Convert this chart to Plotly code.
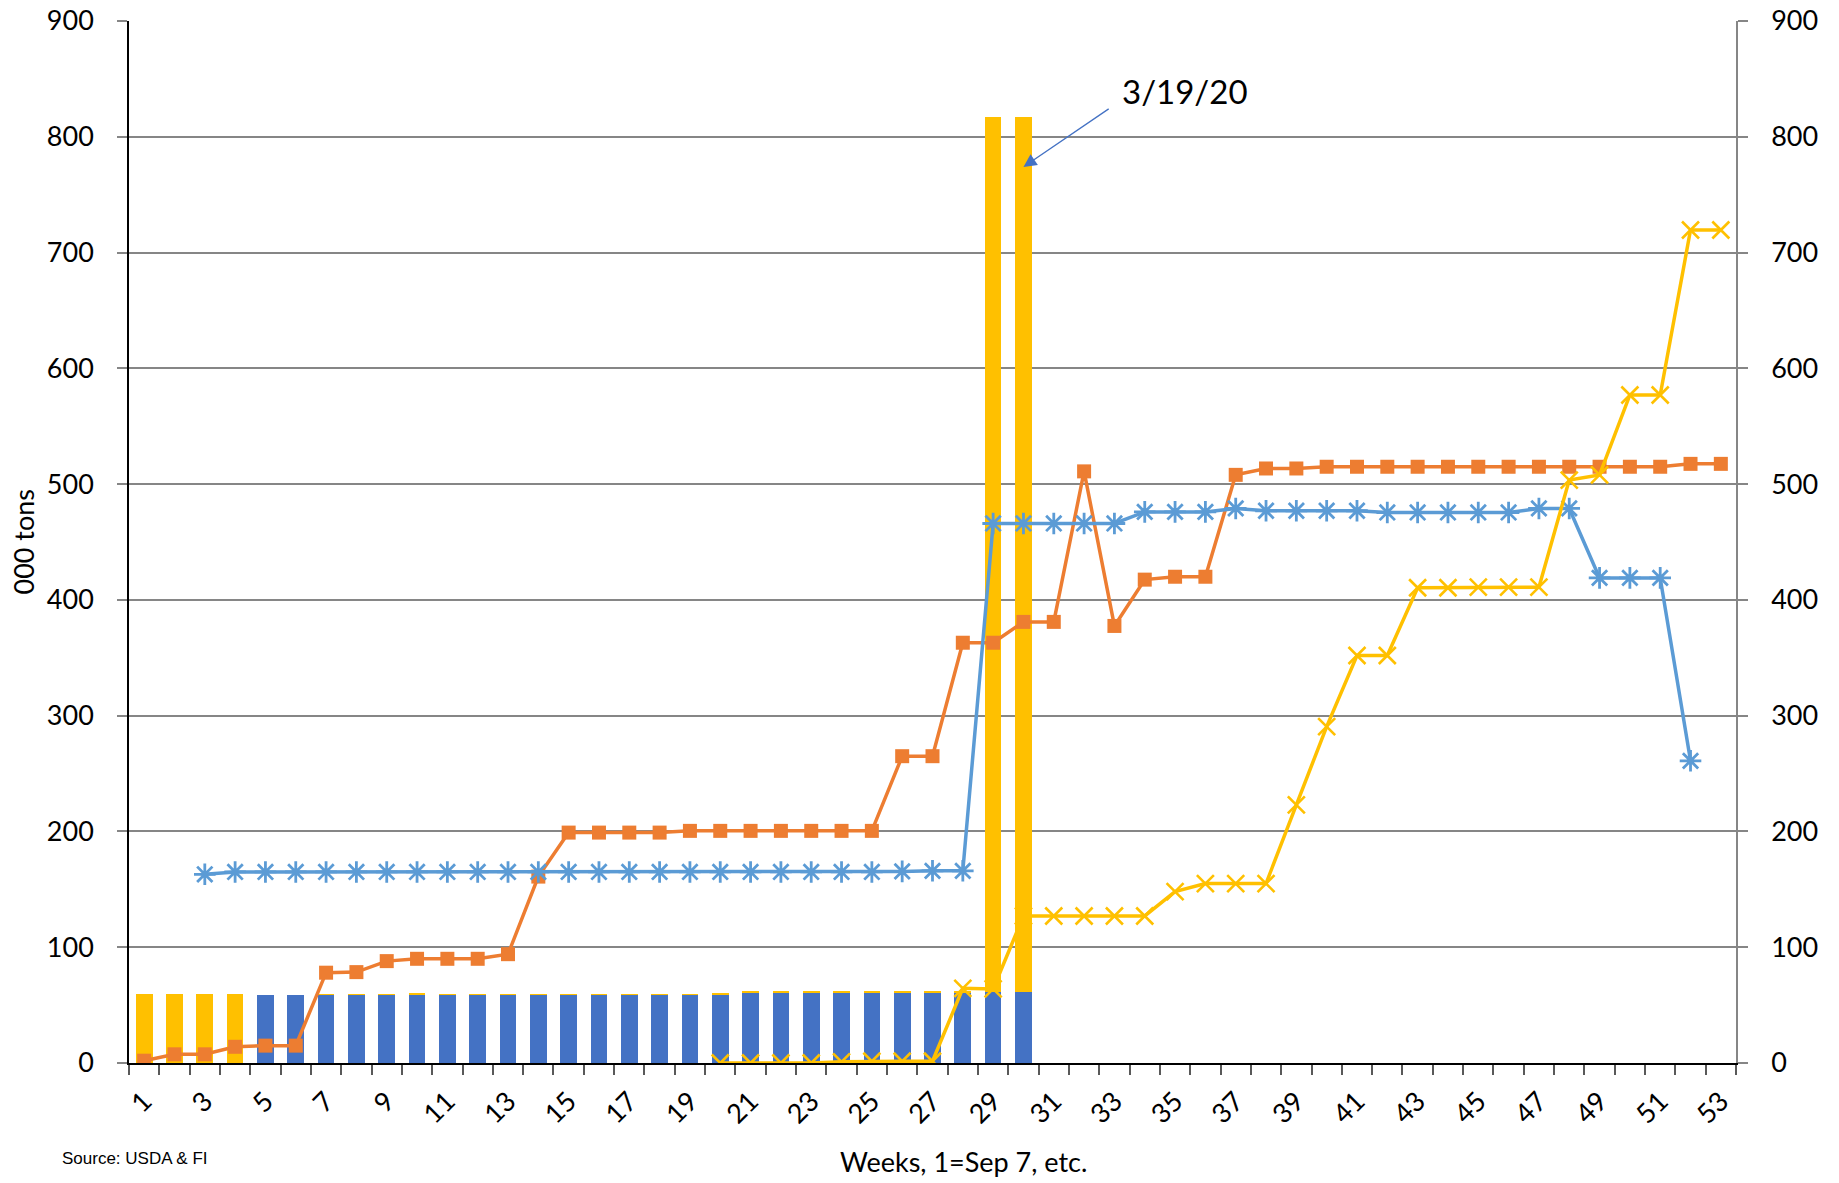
import plotly.graph_objects as go

weeks = list(range(1, 54))
odd_weeks = list(range(1, 54, 2))

# Stacked bars (000 tons)
bar_blue = [0, 0, 0, 0, 58.5, 58.5, 59, 59, 59, 59, 59, 59, 59, 59, 59, 59, 59, 59, 59, 59.5,
            61, 61, 61, 61, 61, 61, 61, 61, 61, 61] + [None] * 23
bar_yellow = [60, 60, 60, 60, 0, 0, 0.6, 0.6, 0.6, 1.5, 0.6, 0.6, 0.6, 0.6, 0.6, 0.6, 0.6, 0.6, 0.6, 0.6,
              0.6, 0.6, 0.6, 0.6, 0.6, 0.6, 0.6, 0.6, 756, 756] + [None] * 23

# Lines (000 tons)
line_orange = [2, 7.5, 7.5, 14, 15, 15, 78, 78.5, 88, 90, 90, 90, 94, 161, 199, 199, 199, 199, 200.5, 200.5,
               200.5, 200.5, 200.5, 200.5, 200.5, 265, 265, 363, 363, 381, 381, 511, 377.5, 417.5, 420, 420,
               508, 513.5, 513.5, 515, 515, 515, 515, 515, 515, 515, 515, 515, 515, 515, 515, 517.5, 517.5]
line_blue = [None, None, 163, 165, 165, 165, 165, 165, 165, 165, 165, 165, 165, 165, 165, 165, 165, 165, 165, 165,
             165, 165, 165, 165, 165, 165.5, 166, 166, 466, 466, 466, 466, 466, 476, 476, 476, 479, 477, 477, 477,
             477, 475.5, 475.5, 475.5, 475.5, 475.5, 479, 479, 419, 419, 419, 261, None]
line_yellow = [None] * 19 + [0, 0, 0, 0, 1, 1.5, 1.5, 1.5, 64.5, 64, 127, 127, 127, 127, 127, 148, 155, 155, 155,
                             223, 290.5, 352, 352, 410.5, 410.5, 411, 411, 411, 503.5, 508, 577, 577, 719.5, 719.5]

y_ticks = list(range(0, 901, 100))

BLUE_BAR = "#4472C4"
YELLOW = "#FFC000"
ORANGE = "#ED7D31"
LBLUE = "#5B9BD5"
GRID = "#868686"
FONT = "Lato"

fig = go.Figure()
fig.add_trace(go.Bar(x=weeks, y=bar_blue, marker=dict(color=BLUE_BAR, line=dict(width=0)), showlegend=False))
fig.add_trace(go.Bar(x=weeks, y=bar_yellow, marker=dict(color=YELLOW, line=dict(width=0)), showlegend=False))

fig.add_trace(go.Scatter(x=weeks, y=line_orange, yaxis="y2", mode="lines+markers",
                         line=dict(color=ORANGE, width=3.5),
                         marker=dict(symbol="square", size=14, color=ORANGE), showlegend=False))
fig.add_trace(go.Scatter(x=weeks, y=line_blue, yaxis="y2", mode="lines+markers",
                         line=dict(color=LBLUE, width=3.5),
                         marker=dict(symbol="asterisk-open", size=18, color=LBLUE,
                                     line=dict(color=LBLUE, width=2.8)), showlegend=False))
fig.add_trace(go.Scatter(x=weeks, y=line_yellow, yaxis="y2", mode="lines+markers",
                         line=dict(color=YELLOW, width=3.5),
                         marker=dict(symbol="x-thin-open", size=17, color=YELLOW,
                                     line=dict(color=YELLOW, width=2.6)), showlegend=False))

# target plot area in page pixels
L, R, T, B = 129.3, 1736, 21, 1063.3
W, H = 1839, 1183

fig.update_layout(
    width=W, height=H,
    margin=dict(l=L, r=W - R, t=T, b=H - B, pad=0, autoexpand=False),
    paper_bgcolor="white", plot_bgcolor="white",
    barmode="stack", bargap=0.45,
    font=dict(family=FONT, size=26, color="#000000"),
    xaxis=dict(range=[0.5, 53.5], tickmode="array", tickvals=odd_weeks,
               ticktext=[str(w) for w in odd_weeks], tickangle=-45, ticks="",
               showline=True, linecolor="#000000", linewidth=1.5, showgrid=False, zeroline=False,
               ticklabelstandoff=10, ticklabeloverflow="allow", automargin=False,
               minor=dict(tick0=0.5, dtick=1, ticks="outside", ticklen=10, tickwidth=1.5,
                          tickcolor="#595959", showgrid=False),
               tickfont=dict(family=FONT, size=27)),
    yaxis=dict(range=[0, 900.01], tickmode="array", tickvals=y_ticks, ticks="outside", ticklen=10,
               tickwidth=1.5, tickcolor=GRID, showline=True, linecolor="#000000", linewidth=1.5,
               showgrid=True, gridcolor=GRID, gridwidth=1.5, zeroline=False, automargin=False,
               ticklabelstandoff=18, ticklabeloverflow="allow", tickfont=dict(family=FONT, size=27)),
    yaxis2=dict(range=[0, 900.01], overlaying="y", side="right", tickmode="array", tickvals=y_ticks,
                ticks="outside", ticklen=10, tickwidth=1.5, tickcolor=GRID, showline=True,
                linecolor=GRID, linewidth=1.5, showgrid=False, zeroline=False, automargin=False,
                ticklabelstandoff=18, ticklabeloverflow="allow", tickfont=dict(family=FONT, size=27)),
    annotations=[
        dict(text="000 tons", textangle=-90, xref="paper", yref="paper",
             x=(24 - L) / (R - L), y=(B - 542) / (B - T), showarrow=False,
             font=dict(family=FONT, size=27), xanchor="center", yanchor="middle"),
        dict(text="Weeks, 1=Sep 7, etc.", xref="paper", yref="paper",
             x=(964 - L) / (R - L), y=(B - 1162) / (B - T), showarrow=False,
             font=dict(family=FONT, size=27), xanchor="center", yanchor="middle"),
        dict(text="Source: USDA & FI", xref="paper", yref="paper",
             x=(60 - L) / (R - L), y=(B - 1159) / (B - T), showarrow=False,
             font=dict(family="Liberation Sans", size=17), xanchor="left", yanchor="middle"),
        dict(text="3/19/20", xref="paper", yref="paper",
             x=(1185 - L) / (R - L), y=(B - 91) / (B - T), showarrow=False,
             font=dict(family=FONT, size=33), xanchor="center", yanchor="middle"),
        dict(text="", x=30, y=774, xref="x", yref="y", ax=32.86, ay=825, axref="x", ayref="y",
             showarrow=True, arrowhead=2, arrowsize=2, arrowwidth=1.3, arrowcolor="#4472C4"),
    ],
)

fig.write_html("out.html", config={"displayModeBar": False},
               post_script="document.body.style.margin='0';document.body.style.overflow='hidden';")
